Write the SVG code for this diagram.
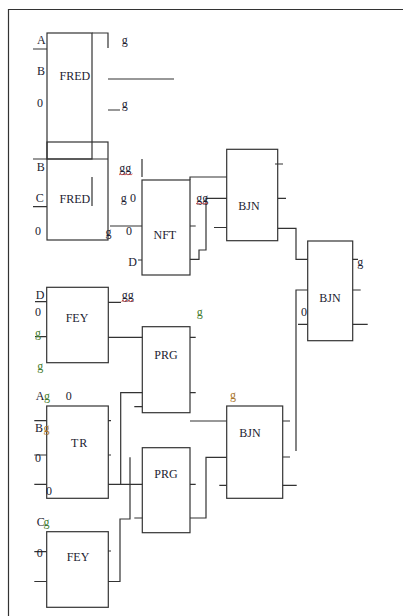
<svg xmlns="http://www.w3.org/2000/svg" width="403" height="616" viewBox="0 0 403 616">
<style>
.box{fill:none;stroke:#333;stroke-width:1.2}
.ln{fill:none;stroke:#333;stroke-width:1.2}
.t{font-family:"Liberation Serif","Times New Roman",serif;font-size:12px;fill:#1c1c30}
.tg{font-family:"Liberation Serif","Times New Roman",serif;font-size:12px;fill:#3f7a2c}
.to{font-family:"Liberation Serif","Times New Roman",serif;font-size:12px;fill:#a8742a}
.sq{fill:none;stroke:#d23a3a;stroke-width:0.8}
</style>
<rect width="403" height="616" fill="#fff"/>
<path class="ln" d="M8.5,616 V9.5 H403"/>

<g id="FRED1">
<rect class="box" x="47" y="33" width="45" height="126"/>
<path class="ln" d="M92,33 H108 V48"/>
<text class="t" x="59.5" y="80">FRED</text>
</g>
<g id="FRED2">
<rect class="box" x="47" y="142" width="61" height="98"/>
<path class="ln" d="M47,159 H108 M92,177 V206"/>
<text class="t" x="59.5" y="203">FRED</text>
</g>
<g id="NFT">
<rect class="box" x="142" y="180" width="48" height="95"/>
<text class="t" x="153.5" y="239">NFT</text>
</g>
<g id="BJN1">
<rect class="box" x="226.7" y="149.3" width="51" height="91.4"/>
<text class="t" x="238.3" y="210">BJN</text>
</g>
<g id="BJN3">
<rect class="box" x="307.7" y="241" width="45" height="99.7"/>
<text class="t" x="319.3" y="301.5">BJN</text>
</g>
<g id="FEY1">
<rect class="box" x="46.7" y="287.3" width="61.6" height="75.4"/>
<text class="t" x="65.7" y="321.5">FEY</text>
</g>
<g id="PRG1">
<rect class="box" x="142.3" y="326.7" width="47.7" height="86"/>
<text class="t" x="154.3" y="359">PRG</text>
</g>
<g id="TR">
<rect class="box" x="46.7" y="406" width="61.6" height="92.3"/>
<text class="t" x="71" y="447" letter-spacing="0.8">TR</text>
</g>
<g id="PRG2">
<rect class="box" x="142.3" y="447.7" width="47.7" height="85"/>
<text class="t" x="154.3" y="478">PRG</text>
</g>
<g id="BJN2">
<rect class="box" x="226.7" y="406" width="56" height="92.3"/>
<text class="t" x="239.3" y="437">BJN</text>
</g>
<g id="FEY2">
<rect class="box" x="46.7" y="531.7" width="61.6" height="75.6"/>
<text class="t" x="66.7" y="561">FEY</text>
</g>

<g id="connectors">
<path class="ln" d="M33,49 H47 M33,159 H47 M33,206.7 H47 M108,79 H174 M108,110 H120"/>
<path class="ln" d="M142,159 V177 M110,226 H142 M138,260 H142"/>
<path class="ln" d="M190,180 V177 H227 M190,226 H195.7 M190,259.3 H199 V250 H206 V198.3 H227 M214,227.5 H227"/>
<path class="ln" d="M275,164 H283 M278,198.3 H286 M278,228.3 H296 V259.3 H307.7 M307.7,290 H296 V451 M298,324.3 H307.7"/>
<path class="ln" d="M352.7,259.3 H358 M352.7,290 H360.7 M352.7,324.3 H367.7"/>
<path class="ln" d="M35,301.7 H46.7 M35,336.7 H46.7 M108,302.3 H121 M108,337.3 H142.3 M190,337.3 H195.7 M190,392.7 H195.7"/>
<path class="ln" d="M142.3,392.7 H120.7 V484.3 M134.3,406.7 H142.3 M108,484.3 H142.3"/>
<path class="ln" d="M34.3,420.7 H46.7 M34.3,455 H46.7 M34.3,484.3 H46.7 M108,420.7 H111 M108,455 H111"/>
<path class="ln" d="M108,581.5 H120 V519 H130 V457.3 M134.3,518 H142.3 M190,484.3 H195.7 M190,518 H206 V457.3 H226.7 M190,421 H226.7 M219.3,485.3 H226.7"/>
<path class="ln" d="M282.7,421 H290 M282.7,457 H290 M282.7,485.3 H296.7"/>
<path class="ln" d="M34.3,551.7 H46.7 M34.3,581.5 H46.7 M108,551 H111"/>
</g>

<g id="labels">
<text class="t" x="37" y="44">A</text>
<text class="t" x="37" y="75">B</text>
<text class="t" x="37" y="107">0</text>
<text class="t" x="121.7" y="44">g</text>
<text class="t" x="121.7" y="107.5">g</text>
<text class="t" x="36.7" y="171">B</text>
<text class="t" x="35.7" y="201.7">C</text>
<text class="t" x="35" y="235">0</text>
<text class="t" x="119.3" y="172">gg</text>
<path class="sq" d="M119,175 l1.5,-1.2 l1.5,1.2 l1.5,-1.2 l1.5,1.2 l1.5,-1.2 l1.5,1.2 l1.5,-1.2 l1.5,1.2 l1.5,-1.2"/>
<text class="t" x="120.7" y="201.7">g</text>
<text class="t" x="130" y="201.7">0</text>
<text class="t" x="105.5" y="236">g</text>
<text class="t" x="126" y="235">0</text>
<text class="t" x="128.3" y="266">D</text>
<text class="t" x="196.2" y="201.5">gg</text>
<path class="sq" d="M196,204 l1.5,-1.2 l1.5,1.2 l1.5,-1.2 l1.5,1.2 l1.5,-1.2 l1.5,1.2 l1.5,-1.2 l1.5,1.2"/>
<text class="t" x="357.3" y="265.5">g</text>
<text class="t" x="301" y="316">0</text>
<text class="t" x="35.7" y="299">D</text>
<text class="t" x="35" y="316">0</text>
<text class="tg" x="35" y="337">g</text>
<text class="tg" x="37.3" y="370">g</text>
<text class="t" x="121.7" y="299">gg</text>
<path class="sq" d="M121.5,301.5 l1.5,-1.2 l1.5,1.2 l1.5,-1.2 l1.5,1.2 l1.5,-1.2 l1.5,1.2 l1.5,-1.2 l1.5,1.2"/>
<text class="tg" x="196.7" y="316">g</text>
<text class="t" x="35.7" y="399.5">A</text>
<text class="tg" x="44" y="399.5">g</text>
<text class="t" x="65.7" y="400">0</text>
<text class="t" x="35" y="431.7">B</text>
<text class="to" x="43.5" y="431.7">g</text>
<text class="t" x="35" y="461.7">0</text>
<text class="t" x="46" y="495">0</text>
<text class="to" x="230" y="399">g</text>
<text class="t" x="36.7" y="526">C</text>
<text class="tg" x="43.5" y="526">g</text>
<text class="t" x="36.7" y="556.7">0</text>
</g>
</svg>
